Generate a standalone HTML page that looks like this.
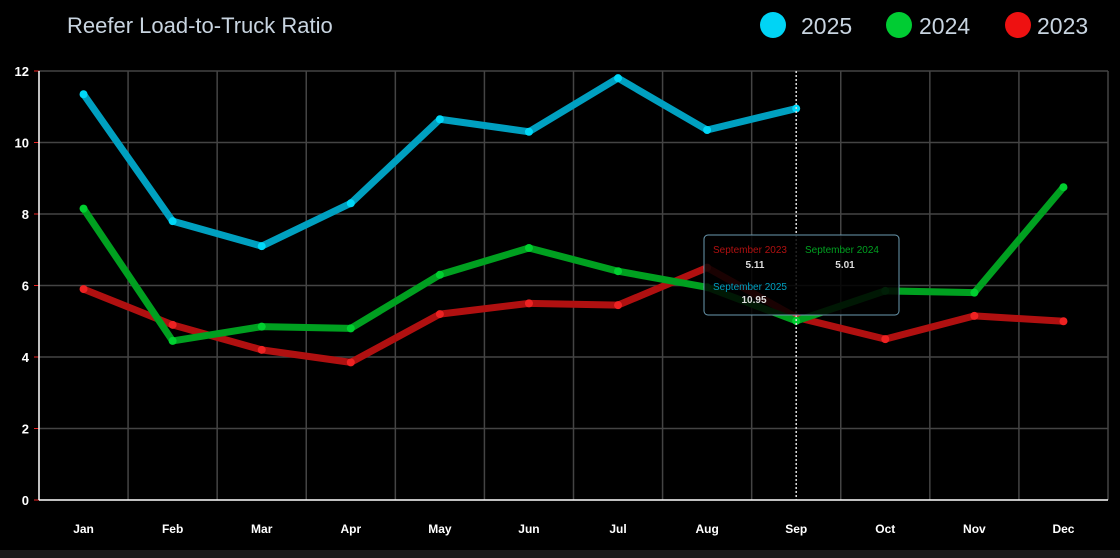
<!DOCTYPE html>
<html><head><meta charset="utf-8"><style>
html,body{margin:0;padding:0;background:#000;width:1120px;height:558px;overflow:hidden}
svg{display:block}
text{font-family:"Liberation Sans",sans-serif}
</style></head><body>
<svg id="c" width="1120" height="558" xmlns="http://www.w3.org/2000/svg"></svg>
<script>
const s=document.getElementById('c');
let h='';
const X0=39,X1=1108,Y0=500,PU=35.75,DX=(X1-X0)/12;
const mx=i=>X0+DX*(i+0.5), my=v=>Y0-v*PU;
h+='<rect x="0" y="550" width="1120" height="8" fill="#1a1a1a"/>';
h+='<text x="67" y="33" font-size="22" fill="#c8d4e0">Reefer Load-to-Truck Ratio</text>';
[[773,801,'#00d4f5','2025'],[899,919,'#00cc33','2024'],[1018,1037,'#ee1111','2023']].forEach(([x,tx,c,t])=>{
h+=`<circle cx="${x}" cy="25" r="13" fill="${c}"/><text x="${tx}" y="34" font-size="23" fill="#c8d4e0">${t}</text>`;});
for(let v=0;v<=12;v+=2){const y=my(v);
 if(v>0)h+=`<line x1="${X0}" x2="${X1}" y1="${y}" y2="${y}" stroke="#444" stroke-width="1.5"/>`;
 h+=`<line x1="34" x2="39" y1="${y}" y2="${y}" stroke="#e22" stroke-width="1"/>`;
 h+=`<text x="29" y="${y+5}" font-size="13" font-weight="bold" fill="#fff" text-anchor="end">${v}</text>`;}
for(let i=1;i<12;i++){const x=X0+DX*i;h+=`<line x1="${x}" x2="${x}" y1="71" y2="500" stroke="#444" stroke-width="1.5"/>`;}
h+=`<line x1="${X1}" x2="${X1}" y1="71" y2="500" stroke="#444" stroke-width="1.5"/>`;
h+=`<line x1="${X0}" x2="${X0}" y1="71" y2="500" stroke="#fff" stroke-width="1.5"/>`;
h+=`<line x1="${X0}" x2="${X1}" y1="500" y2="500" stroke="#fff" stroke-width="1.5"/>`;
const m=['Jan','Feb','Mar','Apr','May','Jun','Jul','Aug','Sep','Oct','Nov','Dec'];
m.forEach((t,i)=>{h+=`<text x="${mx(i)}" y="533" font-size="12" font-weight="bold" fill="#fff" text-anchor="middle">${t}</text>`;});
const ser=[
 ['#b01010','#ee2222',[5.9,4.9,4.2,3.85,5.2,5.5,5.45,6.5,5.11,4.5,5.15,5.0]],
 ['#00a020','#00d030',[8.15,4.45,4.85,4.8,6.3,7.05,6.4,5.95,5.01,5.85,5.8,8.75]],
 ['#00a0c0','#00d8f8',[11.35,7.8,7.1,8.3,10.65,10.3,11.8,10.35,10.95]]];
ser.forEach(([lc,pc,d])=>{
 h+=`<polyline fill="none" stroke="${lc}" stroke-width="7" stroke-linejoin="round" stroke-linecap="round" points="${d.map((v,i)=>mx(i)+','+my(v)).join(' ')}"/>`;
 d.forEach((v,i)=>{h+=`<circle cx="${mx(i)}" cy="${my(v)}" r="4" fill="${pc}"/>`;});});
const sx=mx(8);
h+=`<line x1="${sx}" x2="${sx}" y1="71" y2="500" stroke="#ddd" stroke-width="1.5" stroke-dasharray="2,2"/>`;
h+=`<rect x="704" y="235" width="195" height="80" rx="4" fill="rgba(0,0,0,0.85)" stroke="#6a9ab0" stroke-width="1"/>`;
h+=`<text x="713" y="253" font-size="10" fill="#b01010">September 2023</text><text x="755" y="268" font-size="10" font-weight="bold" fill="#ddd" text-anchor="middle">5.11</text>`;
h+=`<text x="805" y="253" font-size="10" fill="#00a020">September 2024</text><text x="845" y="268" font-size="10" font-weight="bold" fill="#ddd" text-anchor="middle">5.01</text>`;
h+=`<text x="713" y="290" font-size="10" fill="#00a0c0">September 2025</text><text x="754" y="303" font-size="10" font-weight="bold" fill="#ddd" text-anchor="middle">10.95</text>`;
s.innerHTML=h;
</script>
</body></html>
